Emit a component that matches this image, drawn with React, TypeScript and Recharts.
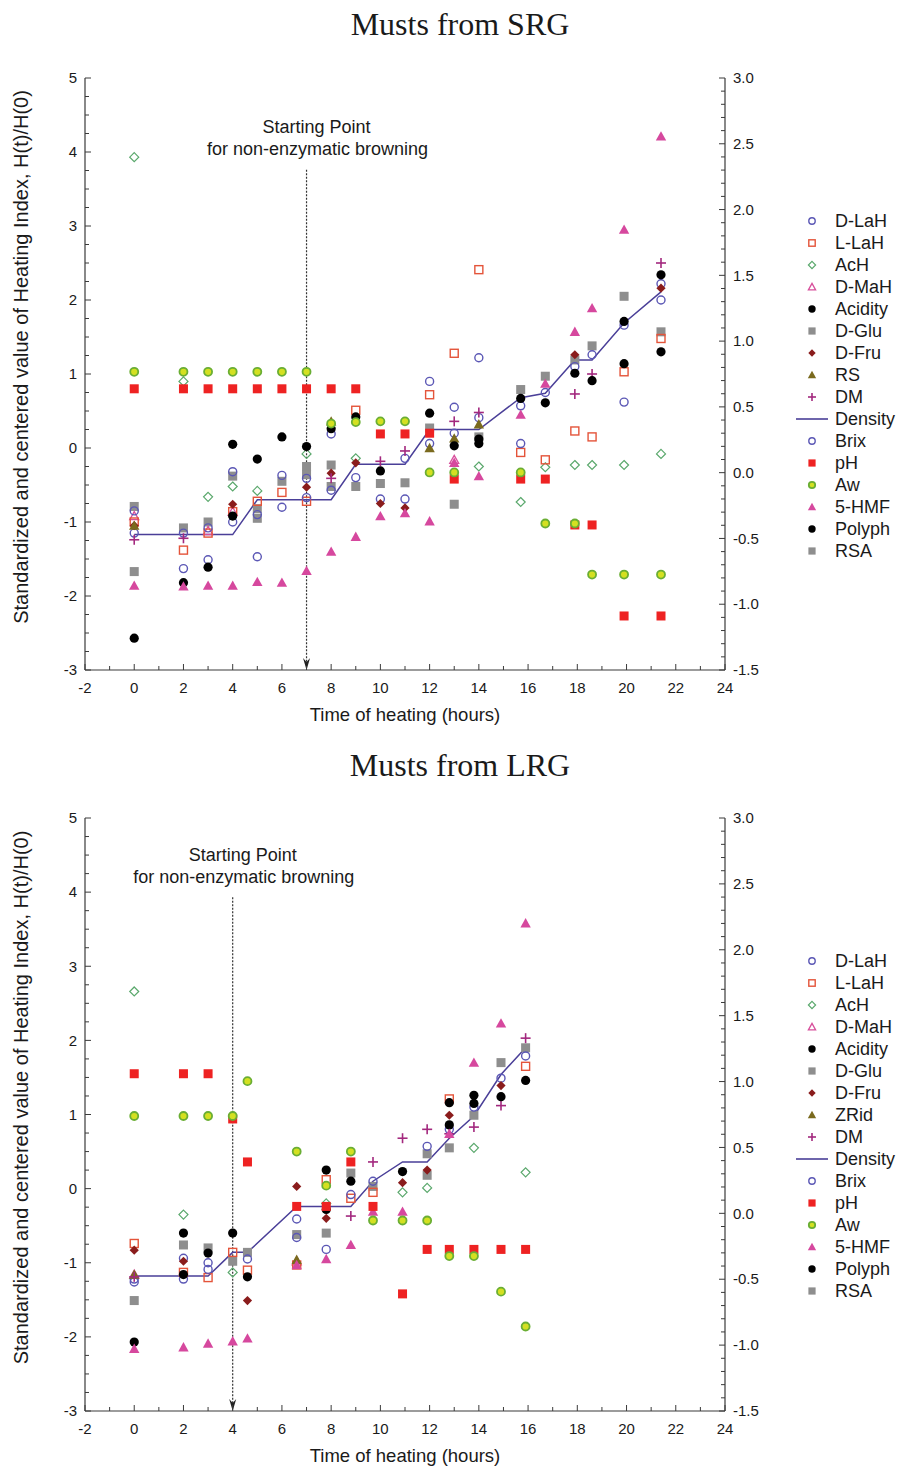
import React from 'react';
import {
  ComposedChart,
  Scatter,
  Line,
  XAxis,
  YAxis,
  ReferenceLine,
  ReferenceDot,
  Legend,
} from 'recharts';

// ---- sampling times (hours) ----
const srgTimes = [0, 2, 3, 4, 5, 6, 7, 8, 9, 10, 11, 12, 13, 14, 15.7, 16.7, 17.9, 18.6, 19.9, 21.4];
const lrgTimes = [0, 2, 3, 4, 4.6, 6.6, 7.8, 8.8, 9.7, 10.9, 11.9, 12.8, 13.8, 14.9, 15.9];

// ---- axis ticks ----
const xMajorTicks = [-2, 0, 2, 4, 6, 8, 10, 12, 14, 16, 18, 20, 22, 24];
const leftMajorTicks = [-3, -2, -1, 0, 1, 2, 3, 4, 5];
const rightMajorTicks = [-1.5, -1.0, -0.5, 0.0, 0.5, 1.0, 1.5, 2.0, 2.5, 3.0];

const steps = (from: number, to: number, step: number) => {
  const out: number[] = [];
  for (let i = 0; from + i * step <= to + 1e-9; i++) out.push(Math.round((from + i * step) * 1000) / 1000);
  return out;
};
const xTicks = steps(xMajorTicks[0], xMajorTicks[xMajorTicks.length - 1], 1);
const leftTicks = steps(leftMajorTicks[0], leftMajorTicks[leftMajorTicks.length - 1], 0.25);
const rightTicks = steps(rightMajorTicks[0], rightMajorTicks[rightMajorTicks.length - 1], 0.1);

// ---- Musts from SRG ----
const srgDLaH = [-0.85, -1.15, -1.08, -0.32, -0.9, -0.37, -0.41, 0.19, -0.4, -0.69, -0.14, 0.9, 0.55, 1.22, 0.57, 0.75, 1.1, 1.26, 1.66, 2.22];
const srgLLaH = [-1.0, -1.38, -1.15, -0.86, -0.72, -0.6, -0.72, null, 0.51, null, null, 0.72, 1.28, 2.41, -0.06, -0.16, 0.23, 0.15, 1.03, 1.48];
const srgAcH = [3.93, 0.9, -0.66, -0.52, -0.58, null, -0.08, null, -0.14, null, null, null, null, -0.25, -0.73, -0.26, -0.23, -0.23, -0.23, -0.08];
const srgDMaH = [-0.92, null, -1.12, -0.86, null, null, null, null, null, null, null, null, -0.16, null, null, null, null, null, null, null];
const srgAcidity = [null, null, null, 0.05, -0.15, 0.15, 0.02, 0.26, 0.42, -0.31, null, 0.47, 0.03, 0.06, 0.67, 0.61, 1.01, 0.91, 1.71, 2.34];
const srgDGlu = [-0.79, -1.08, -1.0, -0.38, -0.95, -0.45, -0.36, -0.23, -0.52, -0.48, -0.47, 0.27, null, 0.15, 0.79, 0.97, 1.19, 1.38, 2.05, 1.57];
const srgDFru = [-1.05, null, null, -0.76, null, null, -0.53, -0.34, -0.2, -0.75, -0.81, null, null, null, null, null, 1.26, null, null, 2.16];
const srgRS = [-1.05, null, null, null, null, null, null, 0.36, null, null, null, 0.0, 0.13, 0.32, null, null, null, null, null, null];
const srgDM = [-1.24, -1.22, null, null, null, null, null, -0.41, null, -0.18, -0.04, null, 0.36, 0.48, null, null, 0.73, 1.0, null, 2.5];
const srgDensity = [-1.17, -1.17, -1.17, -1.17, -0.7, -0.7, -0.7, -0.7, -0.22, -0.22, -0.22, 0.25, 0.25, 0.25, 0.68, 0.74, 1.19, 1.19, 1.69, 2.11];
const srgBrix = [-1.15, -1.63, -1.51, -1.0, -1.47, -0.8, -0.67, -0.57, null, null, -0.69, 0.06, 0.2, 0.41, 0.06, null, null, null, 0.62, 2.0];
const srgPH = [0.8, 0.8, 0.8, 0.8, 0.8, 0.8, 0.8, 0.8, 0.8, 0.19, 0.19, 0.2, -0.42, null, -0.42, -0.42, -1.04, -1.04, -2.27, -2.27];
const srgAw = [1.03, 1.03, 1.03, 1.03, 1.03, 1.03, 1.03, 0.33, 0.35, 0.36, 0.36, -0.33, -0.33, null, -0.33, -1.02, -1.02, -1.71, -1.71, -1.71];
const srgHMF = [-1.86, -1.87, -1.86, -1.86, -1.81, -1.82, -1.66, -1.4, -1.2, -0.92, -0.88, -0.99, -0.2, -0.38, 0.45, 0.87, 1.57, 1.89, 2.95, 4.21];
const srgPolyph = [-2.57, -1.82, -1.61, -0.92, null, null, null, null, null, null, null, null, null, 0.12, null, null, null, null, 1.14, 1.3];
const srgRSA = [-1.67, null, null, null, -0.82, null, -0.25, -0.52, null, null, null, null, -0.76, null, null, null, null, null, null, null];

// ---- Musts from LRG ----
const lrgDLaH = [-1.26, -0.94, -1.0, null, -0.95, -0.41, -0.82, -0.08, 0.1, null, 0.57, 0.8, 1.1, 1.49, 1.79];
const lrgLLaH = [-0.74, -1.13, -1.2, -0.86, -1.1, -1.03, 0.12, -0.13, -0.05, null, null, 1.21, null, null, 1.65];
const lrgAcH = [2.66, -0.35, null, -1.13, null, null, -0.2, null, null, -0.05, 0.01, null, 0.55, null, 0.22];
const lrgDMaH = [-1.16, null, null, null, null, -0.98, null, null, null, null, null, null, null, null, null];
const lrgAcidity = [null, -0.6, -0.87, -0.6, -1.19, null, 0.25, 0.1, null, 0.23, null, 1.16, 1.26, 1.24, 1.46];
const lrgDGlu = [null, -0.76, -0.8, -0.98, -0.86, -0.62, -0.6, 0.21, 0.03, null, 0.47, 0.55, 0.99, 1.7, 1.9];
const lrgDFru = [-0.83, -0.98, null, null, -1.51, 0.03, -0.4, null, null, 0.08, 0.25, 0.99, null, 1.39, null];
const lrgZRid = [-1.16, null, null, null, null, -0.96, null, null, null, null, null, null, null, null, null];
const lrgDM = [-1.19, null, null, null, null, null, null, -0.37, 0.36, 0.68, 0.8, 0.74, 0.83, 1.12, 2.03];
const lrgDensity = [-1.18, -1.18, -1.18, -0.86, -0.86, -0.24, -0.24, -0.24, 0.1, 0.36, 0.36, 0.68, 0.98, 1.54, 1.9];
const lrgBrix = [-1.22, -1.22, -1.09, null, null, -0.66, null, null, null, null, null, null, null, null, null];
const lrgPH = [1.55, 1.55, 1.55, 0.94, 0.36, -0.24, -0.24, 0.36, -0.24, -1.42, -0.82, -0.82, -0.82, -0.82, -0.82];
const lrgAw = [0.98, 0.98, 0.98, 0.98, 1.45, 0.5, 0.04, 0.5, -0.43, -0.43, -0.43, -0.91, -0.91, -1.39, -1.86];
const lrgHMF = [-2.16, -2.14, -2.09, -2.06, -2.02, -1.03, -0.95, -0.76, -0.31, -0.31, null, 0.74, 1.7, 2.23, 3.58];
const lrgPolyph = [-2.07, -1.16, null, null, null, null, -0.28, null, null, null, null, 0.86, 1.15, null, null];
const lrgRSA = [-1.51, null, null, null, null, null, null, null, null, null, 0.18, null, null, null, null];

const INK = '#1a1a1a';
const AXIS = '#3a3a3a';
const FONT = '"Liberation Sans", Arial, sans-serif';

type Kind =
  | 'circle' | 'openSquare' | 'openDiamond' | 'openTriangle'
  | 'dot' | 'square' | 'diamond' | 'triangle' | 'plus' | 'aw' | 'line';

interface SeriesDef {
  name: string;
  values: (number | null)[];
  kind: Kind;
  color: string;
}

const C = {
  lah: '#5b57b5',
  llah: '#e4543a',
  ach: '#5aa86c',
  dmah: '#d8509c',
  black: '#000000',
  gray: '#8e8e8e',
  fru: '#8a1c1c',
  rs: '#7a6a1e',
  dm: '#a3287e',
  density: '#4a3f98',
  ph: '#ee2222',
  hmf: '#d6489e',
};

function Marker({ kind, color, cx, cy, s = 1 }: { kind: Kind; color: string; cx: number; cy: number; s?: number }) {
  switch (kind) {
    case 'circle':
      return <circle cx={cx} cy={cy} r={4 * s} fill="none" stroke={color} strokeWidth={1.4} />;
    case 'openSquare': {
      const h = 4 * s;
      return <rect x={cx - h} y={cy - h} width={2 * h} height={2 * h} fill="none" stroke={color} strokeWidth={1.4} />;
    }
    case 'openDiamond': {
      const d = 4.5 * s;
      return <path d={`M${cx},${cy - d}L${cx + d},${cy}L${cx},${cy + d}L${cx - d},${cy}Z`} fill="none" stroke={color} strokeWidth={1.2} />;
    }
    case 'openTriangle': {
      const w = 4.5 * s;
      return <path d={`M${cx},${cy - w}L${cx + w},${cy + w * 0.8}L${cx - w},${cy + w * 0.8}Z`} fill="none" stroke={color} strokeWidth={1.3} />;
    }
    case 'dot':
      return <circle cx={cx} cy={cy} r={4.6 * s} fill={color} />;
    case 'square': {
      const h = 4.5 * s;
      return <rect x={cx - h} y={cy - h} width={2 * h} height={2 * h} fill={color} />;
    }
    case 'diamond': {
      const d = 4.6 * s;
      return <path d={`M${cx},${cy - d}L${cx + d},${cy}L${cx},${cy + d}L${cx - d},${cy}Z`} fill={color} />;
    }
    case 'triangle': {
      const w = 5.2 * s;
      return <path d={`M${cx},${cy - w}L${cx + w},${cy + w * 0.8}L${cx - w},${cy + w * 0.8}Z`} fill={color} />;
    }
    case 'plus': {
      const a = 5 * s;
      return (
        <g stroke={color} strokeWidth={1.6}>
          <line x1={cx - a} x2={cx + a} y1={cy} y2={cy} />
          <line x1={cx} x2={cx} y1={cy - a} y2={cy + a} />
        </g>
      );
    }
    case 'aw':
      return <circle cx={cx} cy={cy} r={4 * s} fill="#d4e021" stroke="#6aae34" strokeWidth={1.8} />;
    default:
      return null;
  }
}

const buildSeries = (
  dlah: (number | null)[], llah: (number | null)[], ach: (number | null)[], dmah: (number | null)[],
  acidity: (number | null)[], dglu: (number | null)[], dfru: (number | null)[], rs: (number | null)[],
  dm: (number | null)[], brix: (number | null)[], ph: (number | null)[], aw: (number | null)[],
  hmf: (number | null)[], polyph: (number | null)[], rsa: (number | null)[], rsName: string,
): SeriesDef[] => [
  { name: 'D-LaH', values: dlah, kind: 'circle', color: C.lah },
  { name: 'L-LaH', values: llah, kind: 'openSquare', color: C.llah },
  { name: 'AcH', values: ach, kind: 'openDiamond', color: C.ach },
  { name: 'D-MaH', values: dmah, kind: 'openTriangle', color: C.dmah },
  { name: 'Acidity', values: acidity, kind: 'dot', color: C.black },
  { name: 'D-Glu', values: dglu, kind: 'square', color: C.gray },
  { name: 'D-Fru', values: dfru, kind: 'diamond', color: C.fru },
  { name: rsName, values: rs, kind: 'triangle', color: C.rs },
  { name: 'DM', values: dm, kind: 'plus', color: C.dm },
  { name: 'Density', values: [], kind: 'line', color: C.density },
  { name: 'Brix', values: brix, kind: 'circle', color: C.lah },
  { name: 'pH', values: ph, kind: 'square', color: C.ph },
  { name: 'Aw', values: aw, kind: 'aw', color: '#6aae34' },
  { name: '5-HMF', values: hmf, kind: 'triangle', color: C.hmf },
  { name: 'Polyph', values: polyph, kind: 'dot', color: C.black },
  { name: 'RSA', values: rsa, kind: 'square', color: C.gray },
];

const srgSeries = buildSeries(srgDLaH, srgLLaH, srgAcH, srgDMaH, srgAcidity, srgDGlu, srgDFru, srgRS, srgDM,
  srgBrix, srgPH, srgAw, srgHMF, srgPolyph, srgRSA, 'RS');
const lrgSeries = buildSeries(lrgDLaH, lrgLLaH, lrgAcH, lrgDMaH, lrgAcidity, lrgDGlu, lrgDFru, lrgZRid, lrgDM,
  lrgBrix, lrgPH, lrgAw, lrgHMF, lrgPolyph, lrgRSA, 'ZRid');

// draw order: background series first, the bold ones last
const drawOrder = ['RSA', 'D-Glu', 'AcH', 'D-MaH', 'L-LaH', 'Brix', 'D-LaH', 'D-Fru', 'RS', 'ZRid', 'DM', 'Acidity', 'Polyph', '5-HMF', 'pH', 'Aw'];

const toPoints = (times: number[], values: (number | null)[]) =>
  times.flatMap((t, i) => (values[i] == null ? [] : [{ x: t, y: values[i] as number }]));

const isMult = (v: number, step: number) => Math.abs(v / step - Math.round(v / step)) < 1e-6;

const BottomTick = (p: any) => {
  const v = p.payload.value;
  const major = isMult(v, 2);
  return (
    <g>
      <line x1={p.x} x2={p.x} y1={p.y} y2={p.y - (major ? 6 : 4)} stroke={AXIS} />
      {major && (
        <text x={p.x} y={p.y + 12.5} dy="0.71em" textAnchor="middle" fontSize={15} fill={INK} fontFamily={FONT}>
          {v}
        </text>
      )}
    </g>
  );
};

const TopTick = (p: any) => {
  const major = isMult(p.payload.value, 2);
  return <line x1={p.x} x2={p.x} y1={p.y} y2={p.y + (major ? 6 : 4)} stroke={AXIS} />;
};

const LeftTick = (p: any) => {
  const v = p.payload.value;
  const major = isMult(v, 1);
  return (
    <g>
      <line x1={p.x} x2={p.x + (major ? 6 : 4)} y1={p.y} y2={p.y} stroke={AXIS} />
      {major && (
        <text x={p.x - 8} y={p.y} dy="0.35em" textAnchor="end" fontSize={15} fill={INK} fontFamily={FONT}>
          {v}
        </text>
      )}
    </g>
  );
};

const RightTick = (p: any) => {
  const v = p.payload.value;
  const major = isMult(v, 0.5);
  return (
    <g>
      <line x1={p.x} x2={p.x - (major ? 6 : 4)} y1={p.y} y2={p.y} stroke={AXIS} />
      {major && (
        <text x={p.x + 8} y={p.y} dy="0.35em" textAnchor="start" fontSize={15} fill={INK} fontFamily={FONT}>
          {v.toFixed(1)}
        </text>
      )}
    </g>
  );
};

const YTitle = (props: any) => {
  const vb = props.viewBox || { y: 78, height: 592 };
  const cx = 21;
  const cy = vb.y + vb.height / 2 - 17;
  return (
    <text x={cx} y={cy} transform={`rotate(-90 ${cx} ${cy})`} textAnchor="middle" dy="0.35em" fontSize={20} fill={INK} fontFamily={FONT}>
      Standardized and centered value of Heating Index, H(t)/H(0)
    </text>
  );
};

const LegendBox = ({ items }: { items: SeriesDef[] }) => (
  <div style={{ fontFamily: FONT, fontSize: 18, color: INK, whiteSpace: 'nowrap' }}>
    {items.map((it) => (
      <div key={it.name} style={{ display: 'flex', alignItems: 'center', height: 22 }}>
        <svg width={35} height={22} style={{ flex: 'none' }}>
          {it.kind === 'line' ? (
            <line x1={1} x2={33} y1={11} y2={11} stroke={it.color} strokeWidth={1.6} />
          ) : (
            <Marker kind={it.kind} color={it.color} cx={17} cy={11} s={0.8} />
          )}
        </svg>
        <span style={{ marginLeft: 5 }}>{it.name}</span>
      </div>
    ))}
  </div>
);

interface ChartProps {
  top: number;
  height: number;
  axisHeight: number;
  times: number[];
  series: SeriesDef[];
  density: number[];
  startX: number;
  startTop: number;
}

function HeatingChart({ top, height, axisHeight, times, series, density, startX, startTop }: ChartProps) {
  const densityData = toPoints(times, density);
  const ordered = drawOrder
    .map((n) => series.find((s) => s.name === n))
    .filter((s): s is SeriesDef => !!s && s.kind !== 'line');
  return (
    <div style={{ position: 'absolute', left: 0, top }}>
      <ComposedChart width={901} height={height} margin={{ top: 78, right: 116, bottom: 0, left: 0 }}>
        <XAxis
          xAxisId="b"
          dataKey="x"
          type="number"
          domain={[-2, 24]}
          ticks={xTicks}
          interval={0}
          allowDataOverflow
          height={axisHeight}
          tickSize={0}
          tickMargin={0}
          tickLine={false}
          axisLine={{ stroke: AXIS, strokeWidth: 1.2 }}
          tick={(p: any) => <BottomTick {...p} />}
          label={{ value: 'Time of heating (hours)', position: 'insideTop', offset: 38, fontSize: 18.5, fill: INK, fontFamily: FONT }}
        />
        <XAxis
          xAxisId="t"
          orientation="top"
          dataKey="x"
          type="number"
          domain={[-2, 24]}
          ticks={xTicks}
          interval={0}
          allowDataOverflow
          height={0}
          tickSize={0}
          tickMargin={0}
          tickLine={false}
          axisLine={{ stroke: AXIS, strokeWidth: 1.2 }}
          tick={(p: any) => <TopTick {...p} />}
        />
        <YAxis
          yAxisId="l"
          dataKey="y"
          type="number"
          domain={[-3, 5]}
          ticks={leftTicks}
          interval={0}
          allowDataOverflow
          width={85}
          tickSize={0}
          tickMargin={0}
          tickLine={false}
          axisLine={{ stroke: AXIS, strokeWidth: 1.2 }}
          tick={(p: any) => <LeftTick {...p} />}
          label={(p: any) => <YTitle {...p} />}
        />
        <YAxis
          yAxisId="r"
          orientation="right"
          dataKey="y"
          type="number"
          domain={[-1.5, 3]}
          ticks={rightTicks}
          interval={0}
          allowDataOverflow
          width={60}
          tickSize={0}
          tickMargin={0}
          tickLine={false}
          axisLine={{ stroke: AXIS, strokeWidth: 1.2 }}
          tick={(p: any) => <RightTick {...p} />}
        />
        <ReferenceLine
          xAxisId="b"
          yAxisId="l"
          segment={[{ x: startX, y: startTop }, { x: startX, y: -2.9 }]}
          stroke="#333"
          strokeWidth={1.2}
          strokeDasharray="2 1.5"
        />
        <ReferenceDot
          xAxisId="b"
          yAxisId="l"
          x={startX}
          y={-3}
          shape={(p: any) => (
            <path d={`M${p.cx - 3.5},${p.cy - 12}L${p.cx},${p.cy - 8}L${p.cx + 3.5},${p.cy - 12}L${p.cx},${p.cy}Z`} fill="#222" />
          )}
        />
        <ReferenceDot
          xAxisId="b"
          yAxisId="l"
          x={startX}
          y={startTop}
          shape={(p: any) => (
            <g fontFamily={FONT} fontSize={18} fill={INK} textAnchor="middle">
              <text x={p.cx + 10} y={p.cy - 43} dy="0.35em">Starting Point</text>
              <text x={p.cx + 11} y={p.cy - 21} dy="0.35em">for non-enzymatic browning</text>
            </g>
          )}
        />
        <Line
          xAxisId="b"
          yAxisId="l"
          data={densityData}
          dataKey="y"
          type="linear"
          stroke={C.density}
          strokeWidth={1.5}
          dot={false}
          activeDot={false}
          isAnimationActive={false}
        />
        {ordered.map((s) => (
          <Scatter
            key={s.name}
            name={s.name}
            xAxisId="b"
            yAxisId="l"
            data={toPoints(times, s.values)}
            isAnimationActive={false}
            shape={(p: any) => <Marker kind={s.kind} color={s.color} cx={p.cx} cy={p.cy} />}
          />
        ))}
        <Legend
          layout="vertical"
          align="center"
          verticalAlign="middle"
          wrapperStyle={{ left: 795, top: 210, width: 110, height: 'auto' }}
          content={() => <LegendBox items={series} />}
        />
      </ComposedChart>
    </div>
  );
}

const titleStyle: React.CSSProperties = {
  position: 'absolute',
  left: 460,
  transform: 'translateX(-50%)',
  fontFamily: '"Liberation Serif", "Times New Roman", serif',
  fontSize: 32,
  lineHeight: '32px',
  whiteSpace: 'nowrap',
  color: INK,
};

export default function App() {
  return (
    <div style={{ position: 'absolute', left: 0, top: 0, width: 901, height: 1468, overflow: 'hidden', background: '#fff' }}>
      <div style={{ ...titleStyle, top: 8 }}>Musts from SRG</div>
      <HeatingChart
        top={0}
        height={730}
        axisHeight={60}
        times={srgTimes}
        series={srgSeries}
        density={srgDensity}
        startX={7}
        startTop={3.76}
      />
      <div style={{ ...titleStyle, top: 749 }}>Musts from LRG</div>
      <HeatingChart
        top={740}
        height={726}
        axisHeight={55}
        times={lrgTimes}
        series={lrgSeries}
        density={lrgDensity}
        startX={4}
        startTop={3.93}
      />
    </div>
  );
}
